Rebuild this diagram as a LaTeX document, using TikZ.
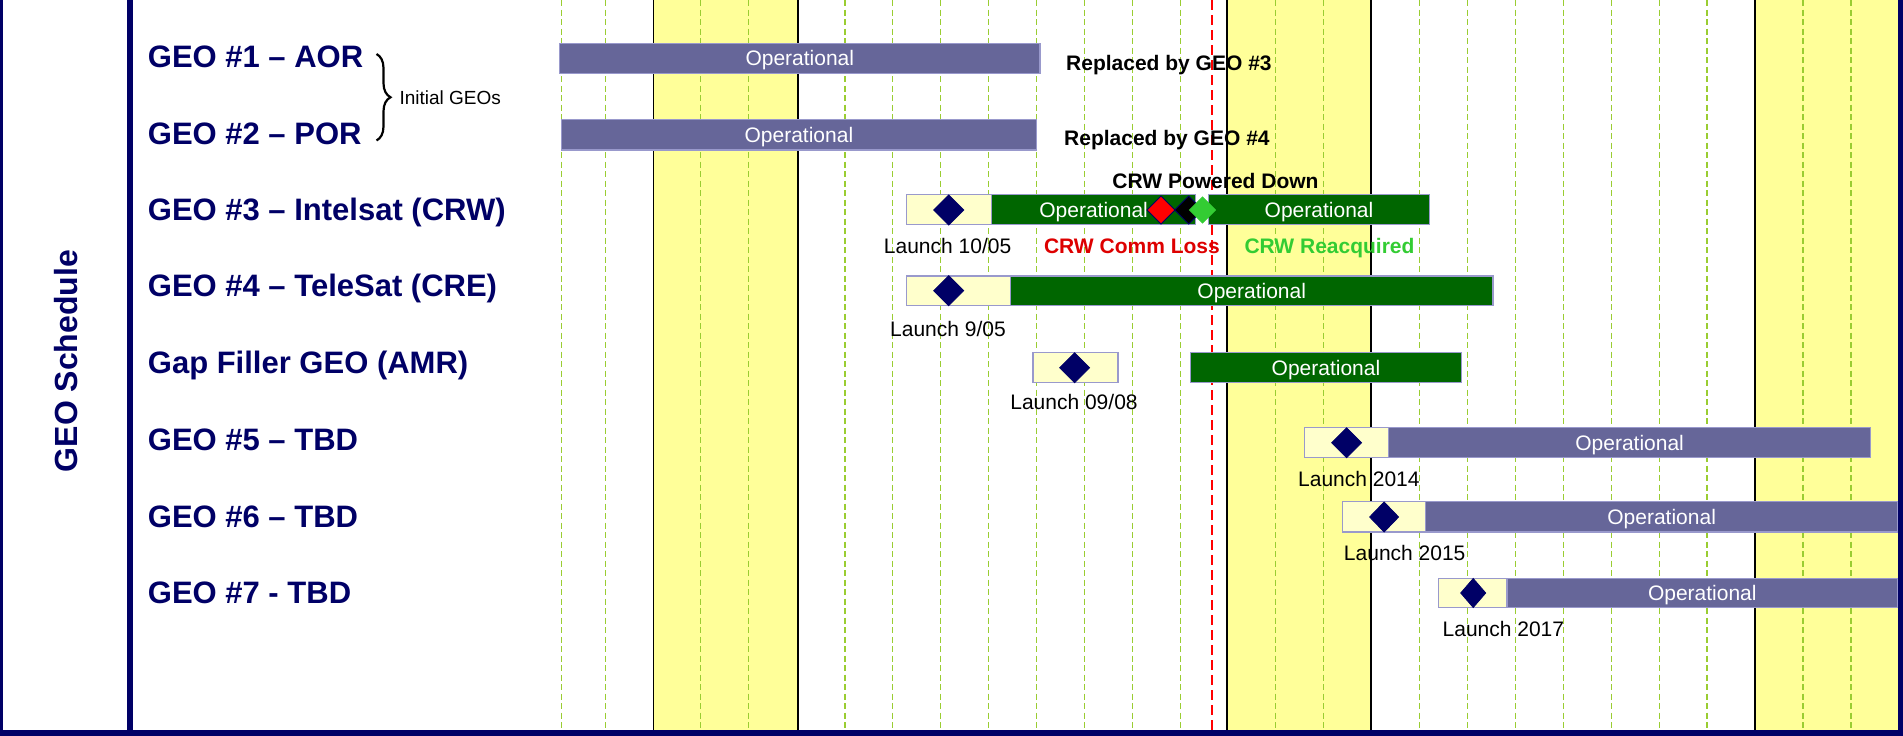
\documentclass[tikz,border=0pt]{standalone}
\usepackage{fontspec}
\setmainfont{Liberation Sans}
\usetikzlibrary{shapes.geometric,decorations.pathreplacing}
\definecolor{navy}{HTML}{000066}
\definecolor{opurple}{HTML}{666699}
\definecolor{ogreen}{HTML}{006600}
\definecolor{lyellow}{HTML}{FFFFCC}
\definecolor{yband}{HTML}{FFFF99}
\definecolor{gridgreen}{HTML}{9ACD32}
\definecolor{bborder}{HTML}{9999CC}
\definecolor{crwgreen}{HTML}{33CC33}
\definecolor{crwred}{HTML}{DD0000}
\newcommand\gbar[7]{\node[barbase,fill=#6,minimum width={(#4)-(#2)},minimum height={(#5)-(#3)}] (#1) at ({((#2)+(#4))/2},{((#3)+(#5))/2}) {#7};}
\begin{document}
\begin{tikzpicture}[x=1pt,y=-1pt,
  barbase/.style={rectangle,draw=bborder,line width=1.2pt,inner sep=0pt,outer sep=0pt,
    text=white,font=\fontsize{21}{21}\selectfont,text height=15pt,text depth=0pt},
  rowlabel/.style={anchor=west,inner sep=0pt,text=navy,font=\fontsize{31}{31}\selectfont\bfseries,text height=22.2pt,text depth=0pt},
  milestone/.style={diamond,fill=navy,draw=navy,line width=0.8pt,inner sep=0pt,outer sep=0pt,minimum width=30pt,minimum height=30pt},
  evmark/.style={diamond,draw=navy,line width=1pt,inner sep=0pt,outer sep=0pt,minimum width=28pt,minimum height=28pt},
  smalltxt/.style={inner sep=0pt,font=\fontsize{21}{21}\selectfont,text height=15pt,text depth=0pt},
  boldtxt/.style={inner sep=0pt,font=\fontsize{21}{21}\selectfont\bfseries,text height=15pt,text depth=0pt},
  gridline/.style={gridgreen,line width=1.3pt,dash pattern=on 6pt off 3.5pt},
  bandedge/.style={black,line width=1.2pt},
  nowline/.style={red,line width=2pt,dash pattern=on 10pt off 5pt}
]
\useasboundingbox (0,0) rectangle (1903,736);
% year bands
\fill[yband] (653.8,0) rectangle (798,730);
\fill[yband] (1227,0) rectangle (1371,730);
\fill[yband] (1755,0) rectangle (1898,730);
% grid
\foreach \gx in {561.5,605.6,700.7,748.5,844.9,892.7,940.4,988.7,1036.2,1084.3,1132.3,1180.3,1275.3,1323.7,1419.7,1467.7,1515.6,1563.2,1611.6,1659.6,1707.1,1803,1851}
  \draw[gridline] (\gx,0) -- (\gx,730);
\foreach \gx in {653.8,798,1227,1371,1755}
  \draw[bandedge] (\gx,0) -- (\gx,730);
\draw[nowline] (1212,0) -- (1212,730);
% frame
\fill[navy] (0,0) rectangle (3.3,736);
\fill[navy] (126.5,0) rectangle (132.5,736);
\fill[navy] (0,730) rectangle (1903,736);
\fill[navy] (1897.6,0) rectangle (1903,736);
% title
\node[rotate=90,inner sep=0pt,text=navy,font=\fontsize{32}{32}\selectfont\bfseries,text height=22.9pt,text depth=0pt] (title) at (65.8,361) {GEO Schedule};
% row labels
\node[rowlabel] (l1) at (147.7,56.7) {GEO \#1 – AOR};
\node[rowlabel] (l2) at (147.7,133) {GEO \#2 – POR};
\node[rowlabel] (l3) at (147.7,209) {GEO \#3 – Intelsat (CRW)};
\node[rowlabel] (l4) at (147.7,285) {GEO \#4 – TeleSat (CRE)};
\node[rowlabel] (l5) at (147.7,362) {Gap Filler GEO (AMR)};
\node[rowlabel] (l6) at (147.7,439) {GEO \#5 – TBD};
\node[rowlabel] (l7) at (147.7,516) {GEO \#6 – TBD};
\node[rowlabel] (l8) at (147.7,592.5) {GEO \#7 - TBD};
% brace
\coordinate (bt) at (376.5,54);
\coordinate (bb) at (376.5,140.5);
\draw[line width=2.2pt,decorate,decoration={brace,amplitude=14pt}] (bt) -- (bb);
\node[anchor=west,inner sep=0pt,font=\fontsize{19}{19}\selectfont,text height=13.6pt,text depth=0pt] (init) at (399.3,97.5) {Initial GEOs};
% bars
\gbar{b1}{559.6}{43.3}{1040}{73.3}{opurple}{Operational}
\gbar{b2}{561.4}{119.3}{1036.4}{150}{opurple}{Operational}
\gbar{lb3}{906.3}{194.3}{991.6}{224.7}{lyellow}{}
\gbar{b3a}{991.6}{194.3}{1195.6}{224.7}{ogreen}{Operational}
\gbar{b3b}{1208.2}{194.3}{1429.8}{224.7}{ogreen}{Operational}
\gbar{lb4}{906.3}{276}{1010.4}{305.3}{lyellow}{}
\gbar{b4}{1010.4}{276}{1493}{305.3}{ogreen}{Operational}
\gbar{lb5}{1032.9}{352.7}{1117.9}{382.3}{lyellow}{}
\gbar{b5}{1190.6}{352.7}{1461.3}{382.3}{ogreen}{Operational}
\gbar{lb6}{1304.1}{427.7}{1388.7}{457.3}{lyellow}{}
\gbar{b6}{1388.7}{427.7}{1870.5}{457.3}{opurple}{Operational}
\gbar{lb7}{1342.5}{501.7}{1425.7}{532}{lyellow}{}
\gbar{b7}{1425.7}{501.7}{1897.6}{532}{opurple}{Operational}
\gbar{lb8}{1438.7}{578.7}{1507}{607.3}{lyellow}{}
\gbar{b8}{1507}{578.7}{1897.6}{607.3}{opurple}{Operational}
% milestones
\node[milestone] (d3) at (948.7,210) {};
\node[milestone] (d4) at (948.7,290.7) {};
\node[milestone] (d5) at (1074.6,367.7) {};
\node[milestone] (d6) at (1346.6,442.7) {};
\node[milestone,minimum width=29pt] (d7) at (1384.1,517) {};
\node[milestone,minimum width=25pt,minimum height=29pt] (d8) at (1473.2,593) {};
% CRW events
\node[evmark,fill=red] (loss) at (1161,210) {};
\node[evmark,fill=black] (down) at (1188.7,210) {};
\node[evmark,fill=crwgreen,draw=crwgreen,minimum width=26pt,minimum height=26pt] (reacq) at (1202.5,210) {};
% texts
\node[boldtxt] (rep3) [anchor=west] at (1066,63.3) {Replaced by GEO \#3};
\node[boldtxt] (rep4) [anchor=west] at (1064,137.5) {Replaced by GEO \#4};
\node[boldtxt] (pd) at (1215.5,180.7) {CRW Powered Down};
\node[boldtxt,text=crwred] (cl) at (1131.9,245.7) {CRW Comm Loss};
\node[boldtxt,text=crwgreen] (ra) at (1329.5,245.7) {CRW Reacquired};
\node[smalltxt] (t3) at (947.6,245.7) {Launch 10/05};
\node[smalltxt] (t4) at (948,329.3) {Launch 9/05};
\node[smalltxt] (t5) at (1074,401.7) {Launch 09/08};
\node[smalltxt] (t6) at (1358.9,479.3) {Launch 2014};
\node[smalltxt] (t7) at (1404.7,553.3) {Launch 2015};
\node[smalltxt] (t8) at (1503.4,629) {Launch 2017};
\end{tikzpicture}
\end{document}
